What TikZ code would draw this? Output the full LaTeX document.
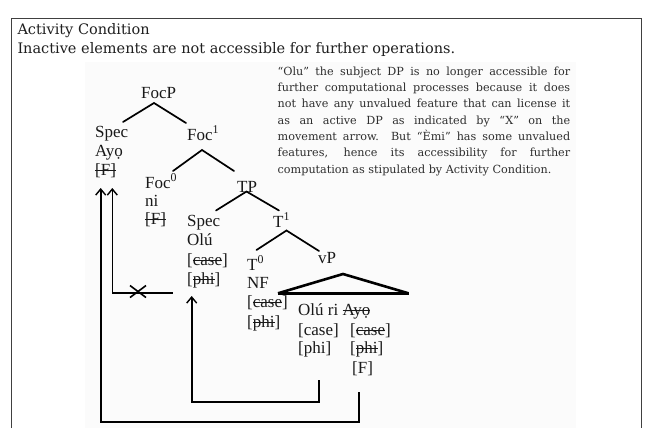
\documentclass[tikz,border=0pt]{standalone}
\usepackage{fontspec}
\setmainfont{Liberation Serif}
\newfontfamily\parafont{DejaVu Serif}
\newsavebox\strkbox
\newcommand\strk[1]{\sbox\strkbox{#1}\rlap{\rule[0.26em]{\wd\strkbox}{0.9pt}}\usebox\strkbox}
\usetikzlibrary{arrows.meta}
\begin{document}
\begin{tikzpicture}[x=1pt,y=-1pt,
  ttl/.style={anchor=base west, inner sep=0pt, font=\parafont\fontsize{14.5}{18}\selectfont, text=black!88},
  lbl/.style={anchor=base west, inner sep=0pt, font=\fontsize{17}{19}\selectfont, text=black!90},
  para/.style={anchor=base west, inner sep=0pt, font=\parafont\fontsize{11.2}{16}\selectfont, text=black!82},
  branch/.style={line width=1.7pt, line cap=round},
  mv/.style={line width=1.6pt},
  mvarrow/.style={mv, -{Straight Barb[length=6pt,width=10pt,line width=1.4pt]}}]
\useasboundingbox (0,0) rectangle (650,428);
\fill[white] (0,0) rectangle (650,428);
\fill[black!1.5] (85,61.7) rectangle (576,428);
\draw[line width=1pt, black!75] (11,428) -- (11,19) -- (641,19) -- (641,428);
% title
\node[ttl] (title1) at (17.3,35) {Activity Condition};
\node[ttl] (title2) at (17.3,54) {Inactive elements are not accessible for further operations.};
% paragraph
\node[para] (p1) at (277.5,75.3) {\makebox[292.5pt][s]{“Olu” the subject DP is no longer accessible for}};
\node[para] (p2) at (277.5,91.6) {\makebox[292.5pt][s]{further computational processes because it does}};
\node[para] (p3) at (277.5,107.9) {\makebox[292.5pt][s]{not have any unvalued feature that can license it}};
\node[para] (p4) at (277.5,124.2) {\makebox[292.5pt][s]{as an active DP as indicated by “X” on the}};
\node[para] (p5) at (277.5,140.5) {\makebox[292.5pt][s]{movement arrow. But “Èmi” has some unvalued}};
\node[para] (p6) at (277.5,156.8) {\makebox[292.5pt][s]{features, hence its accessibility for further}};
\node[para] (p7) at (277.5,173.1) {computation as stipulated by Activity Condition.};
% tree labels
\node[lbl] (focp) at (141,98) {FocP};
\node[lbl] (spec1) at (95,137) {Spec};
\node[lbl] (ayo1) at (95,156) {Ayọ};
\node[lbl] (f1) at (95,175) {\strk{[F]}};
\node[lbl] (focbar) at (187,140) {Foc\textsuperscript{1}};
\node[lbl] (foc0) at (145,188) {Foc\textsuperscript{0}};
\node[lbl] (ni) at (145,206) {ni};
\node[lbl] (f2) at (145,224) {\strk{[F]}};
\node[lbl] (tp) at (237,192) {TP};
\node[lbl] (spec2) at (187,226) {Spec};
\node[lbl] (olu1) at (187,245) {Olú};
\node[lbl] (case1) at (187,265) {[\strk{case}]};
\node[lbl] (phi1) at (187,284) {[\strk{phi}]};
\node[lbl] (tbar) at (273,227) {T\textsuperscript{1}};
\node[lbl] (t0) at (247,270) {T\textsuperscript{0}};
\node[lbl] (nf) at (247,288) {NF};
\node[lbl] (case2) at (247,307) {[\strk{case}]};
\node[lbl] (phi2) at (247,327) {[\strk{phi}]};
\node[lbl] (vp) at (318,263) {vP};
\node[lbl] (olu2) at (298,315) {Olú ri \strk{Ayọ}};
\node[lbl] (case3) at (298,335) {[case]};
\node[lbl] (phi3) at (298,353) {[phi]};
\node[lbl] (case4) at (350,335) {[\strk{case}]};
\node[lbl] (phi4) at (350,353) {[\strk{phi}]};
\node[lbl] (ff) at (352,373) {[F]};
% branch coordinates
\coordinate (a1) at (154,103); \coordinate (a1l) at (123,122); \coordinate (a1r) at (186,123);
\coordinate (a2) at (202,150); \coordinate (a2l) at (173,171); \coordinate (a2r) at (234,171);
\coordinate (a3) at (246.5,191.5); \coordinate (a3l) at (216,210.5); \coordinate (a3r) at (279,210.5);
\coordinate (a4) at (286.5,230.5); \coordinate (a4l) at (256.5,250); \coordinate (a4r) at (319,251);
\draw[branch] (a1l) -- (a1) -- (a1r);
\draw[branch] (a2l) -- (a2) -- (a2r);
\draw[branch] (a3l) -- (a3) -- (a3r);
\draw[branch] (a4l) -- (a4) -- (a4r);
% triangle
\coordinate (tri) at (343,274); \coordinate (tril) at (278,293.3); \coordinate (trir) at (408.5,293.3);
\draw[line width=2.6pt, line join=miter] (tril) -- (tri) -- (trir);
\draw[line width=3.4pt] (tril) -- (trir);
% movement arrows
\coordinate (o1) at (359,392); \coordinate (o2) at (359,422); \coordinate (o3) at (100.7,422); \coordinate (o4) at (100.7,188);
\draw[mvarrow] (o1) -- (o2) -- (o3) -- (o4);
\coordinate (i1) at (319,380); \coordinate (i2) at (319,401.7); \coordinate (i3) at (191.7,401.7); \coordinate (i4) at (191.7,296);
\draw[mvarrow] (i1) -- (i2) -- (i3) -- (i4);
\coordinate (x1) at (172.7,292.7); \coordinate (x2) at (112.3,292.7); \coordinate (x3) at (112.3,188);
\draw[mvarrow] (x1) -- (x2) -- (x3);
\coordinate (xc) at (138,291.5);
\draw[mv] ([shift={(-8,-6)}]xc) -- ([shift={(8,6)}]xc);
\draw[mv] ([shift={(-8,6)}]xc) -- ([shift={(8,-6)}]xc);
\end{tikzpicture}
\end{document}
